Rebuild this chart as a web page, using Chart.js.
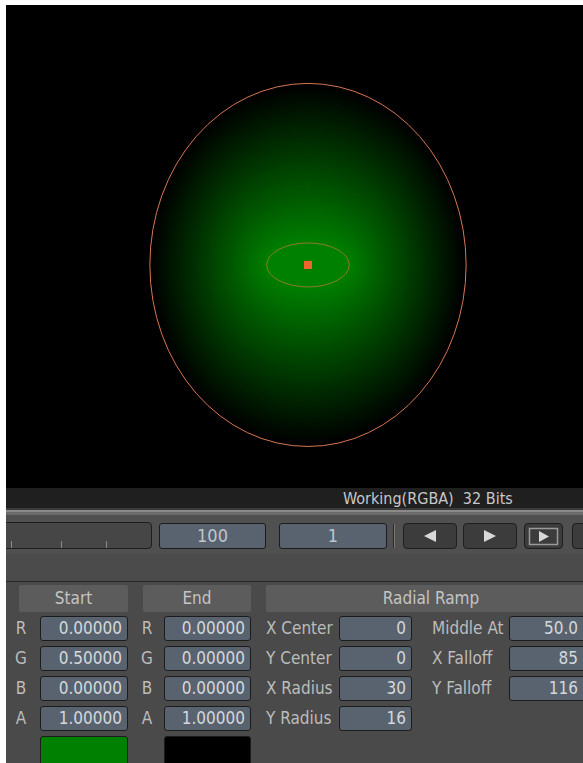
<!DOCTYPE html>
<html>
<head>
<meta charset="utf-8">
<script src="https://cdn.jsdelivr.net/npm/chart.js@4.4.1/dist/chart.umd.min.js"></script>
<style>
html, body { margin: 0; padding: 0; background: #fff; width: 583px; height: 763px; overflow: hidden; }
#app { position: absolute; left: 6px; top: 5px; width: 577px; height: 758px; overflow: hidden; background: #4a4a4a;
  font-family: "Liberation Sans Narrow", "DejaVu Sans Condensed", sans-serif; color: #c8c8c8; }
.ab { position: absolute; box-sizing: border-box; white-space: pre; }
.field { background: #59636f; border: 1px solid #1c1c1c; border-radius: 3px; text-align: right; padding-right: 5px;
  font-size: 17px; line-height: 23px; color: #d4d8dc; }
.hdr { background: #5c5c5c; border-radius: 2px; text-align: center; font-size: 17px; line-height: 27px; color: #c4c4c4; }
.lbl { font-size: 17px; line-height: 25px; color: #bcbcbc; }
.btn { background: #3c3c3c; border: 1px solid #1e1e1e; border-radius: 4px; }
</style>
</head>
<body>
<div id="app">
  <canvas id="view" class="ab" width="577" height="483" style="left:0;top:0"></canvas>
</div>
<script>
// ---- ramp settings ----
const channelNames = ["R", "G", "B", "A"];
const startColor = [0.0, 0.5, 0.0, 1.0];
const endColor = [0.0, 0.0, 0.0, 1.0];

const shapeLabels = ["X Center", "Y Center", "X Radius", "Y Radius"];
const shapeValues = [0, 0, 30, 16];
const falloffLabels = ["Middle At", "X Falloff", "Y Falloff"];
const falloffValues = [50.0, 85, 116];

const frameValues = ["100", "1"];
const statusText = "Working(RGBA)  32 Bits";

// visible part of the image, in ramp units
const viewX = [-219.6, 200];
const viewY = [-162.2, 189];

const xCenter = shapeValues[0], yCenter = shapeValues[1];
const xRadius = shapeValues[2], yRadius = shapeValues[3];
const middleAt = falloffValues[0], xFalloff = falloffValues[1], yFalloff = falloffValues[2];

// page coords -> #app coords
const OX = 6, OY = 5;
const app = document.getElementById("app");
function box(x, y, w, h, cls, text, style) {
  const d = document.createElement("div");
  d.className = "ab " + (cls || "");
  d.style.left = (x - OX) + "px";
  d.style.top = (y - OY) + "px";
  d.style.width = w + "px";
  d.style.height = h + "px";
  if (style) d.style.cssText += style;
  if (text !== undefined) d.textContent = text;
  app.appendChild(d);
  return d;
}
function fmt5(v) { return v.toFixed(5); }
function toCss(c) {
  return "rgb(" + Math.round(c[0] * 255) + "," + Math.round(c[1] * 255) + "," + Math.round(c[2] * 255) + ")";
}

// ---- ramp drawing plugin ----
const rampPlugin = {
  id: "radialRamp",
  beforeDraw(chart) {
    const ctx = chart.ctx;
    ctx.save();
    ctx.fillStyle = "#000";
    ctx.fillRect(0, 0, chart.width, chart.height);
    ctx.restore();
  },
  beforeDatasetsDraw(chart) {
    const ctx = chart.ctx;
    const xs = chart.scales.x, ys = chart.scales.y;
    const cx = xs.getPixelForValue(xCenter), cy = ys.getPixelForValue(yCenter);
    const kx = xs.getPixelForValue(1) - xs.getPixelForValue(0);
    const ky = ys.getPixelForValue(0) - ys.getPixelForValue(1);
    const bias = Math.log(0.5) / Math.log(middleAt / 100);
    const steps = 200;
    ctx.save();
    for (let i = steps; i >= 0; i--) {
      const t = i / steps;
      const m = Math.pow(t, bias);
      const c = [0, 1, 2].map(k => startColor[k] * (1 - m) + endColor[k] * m);
      ctx.fillStyle = toCss(c);
      ctx.beginPath();
      ctx.ellipse(cx, cy, (xRadius + xFalloff * t) * kx, (yRadius + yFalloff * t) * ky, 0, 0, Math.PI * 2);
      ctx.fill();
    }
    ctx.lineWidth = 1;
    ctx.strokeStyle = "rgb(214,118,82)";
    ctx.beginPath();
    ctx.ellipse(cx, cy, (xRadius + xFalloff) * kx, (yRadius + yFalloff) * ky, 0, 0, Math.PI * 2);
    ctx.stroke();
    ctx.strokeStyle = "rgba(232,120,60,0.6)";
    ctx.beginPath();
    ctx.ellipse(cx, cy, xRadius * kx, yRadius * ky, 0, 0, Math.PI * 2);
    ctx.stroke();
    ctx.restore();
  }
};

new Chart(document.getElementById("view"), {
  type: "scatter",
  data: {
    datasets: [{
      data: [{ x: xCenter, y: yCenter }],
      pointStyle: "rect",
      pointRadius: 5.7,
      pointHoverRadius: 5.7,
      backgroundColor: "#f0652d",
      borderWidth: 0
    }]
  },
  options: {
    responsive: false,
    animation: false,
    events: [],
    layout: { padding: 0, autoPadding: false },
    plugins: { legend: { display: false }, tooltip: { enabled: false } },
    scales: {
      x: { type: "linear", min: viewX[0], max: viewX[1], display: false },
      y: { type: "linear", min: viewY[0], max: viewY[1], display: false }
    }
  },
  plugins: [rampPlugin]
});

// ---- status bar and toolbar ----
box(0, 488, 600, 20, "", undefined, "background:#1f1f1f");
box(343, 489, 200, 19, "", statusText, "font-size:16px;line-height:19px;color:#c8c8c8");
box(0, 508, 600, 2, "", undefined, "background:#3a3a3a");
box(0, 510, 600, 2, "", undefined, "background:#8a8a8a");
box(0, 512, 600, 3, "", undefined, "background:#6a6a6a");
box(0, 515, 600, 39, "", undefined, "background:#505050");

box(-4, 522, 156, 27, "btn", undefined, "background:#464646");
[11, 61, 106].forEach(x => box(x, 541, 1, 7, "", undefined, "background:#8a8a8a"));
box(159, 523, 107, 26, "field", frameValues[0], "text-align:center;padding:0;font-size:18px;line-height:24px;color:#bfc6cc");
box(279, 523, 108, 26, "field", frameValues[1], "text-align:center;padding:0;font-size:18px;line-height:24px;color:#bfc6cc");
box(393, 524, 1, 24, "", undefined, "background:#2a2a2a");
box(394, 524, 1, 24, "", undefined, "background:#7a7a7a");

const b1 = box(403, 523, 54, 26, "btn");
b1.innerHTML = '<svg width="52" height="24" style="position:absolute;left:0;top:0"><polygon points="20,12 32,6 32,18" fill="#d8d8d8"/></svg>';
const b2 = box(463, 523, 54, 26, "btn");
b2.innerHTML = '<svg width="52" height="24" style="position:absolute;left:0;top:0"><polygon points="32,12 20,6 20,18" fill="#d8d8d8"/></svg>';
const b3 = box(524, 523, 39, 26, "btn");
b3.innerHTML = '<svg width="37" height="24" style="position:absolute;left:0;top:0"><rect x="4.5" y="4.5" width="28" height="16" fill="none" stroke="#9a9a9a" stroke-width="1.5"/><polygon points="24,12.5 14,7 14,18" fill="#d8d8d8"/></svg>';
box(572, 523, 40, 26, "btn");

// ---- parameter panel ----
box(0, 554, 600, 27, "", undefined, "background:#4b4b4b");
box(0, 581, 600, 1, "", undefined, "background:#262626");

box(19, 585, 109, 27, "hdr", "Start");
box(143, 585, 108, 27, "hdr", "End");
box(266, 585, 330, 27, "hdr", "Radial Ramp");

const rowY = [616, 646, 676, 706];
channelNames.forEach((n, i) => {
  box(12, rowY[i], 18, 25, "lbl", n, "text-align:center");
  box(40, rowY[i], 88, 25, "field", fmt5(startColor[i]));
  box(138, rowY[i], 18, 25, "lbl", n, "text-align:center");
  box(164, rowY[i], 87, 25, "field", fmt5(endColor[i]));
});
box(40, 736, 88, 30, "field", undefined, "background:" + toCss(startColor));
box(164, 736, 87, 30, "field", undefined, "background:" + toCss(endColor));

shapeLabels.forEach((n, i) => {
  box(266, rowY[i], 72, 25, "lbl", n);
  box(339, rowY[i], 73, 25, "field", String(shapeValues[i]));
});
falloffLabels.forEach((n, i) => {
  box(432, rowY[i], 76, 25, "lbl", n);
  const v = i === 0 ? falloffValues[i].toFixed(1) : String(falloffValues[i]);
  box(509, rowY[i], 80, 25, "field", v, "padding-right:10px");
});
</script>
</body>
</html>
